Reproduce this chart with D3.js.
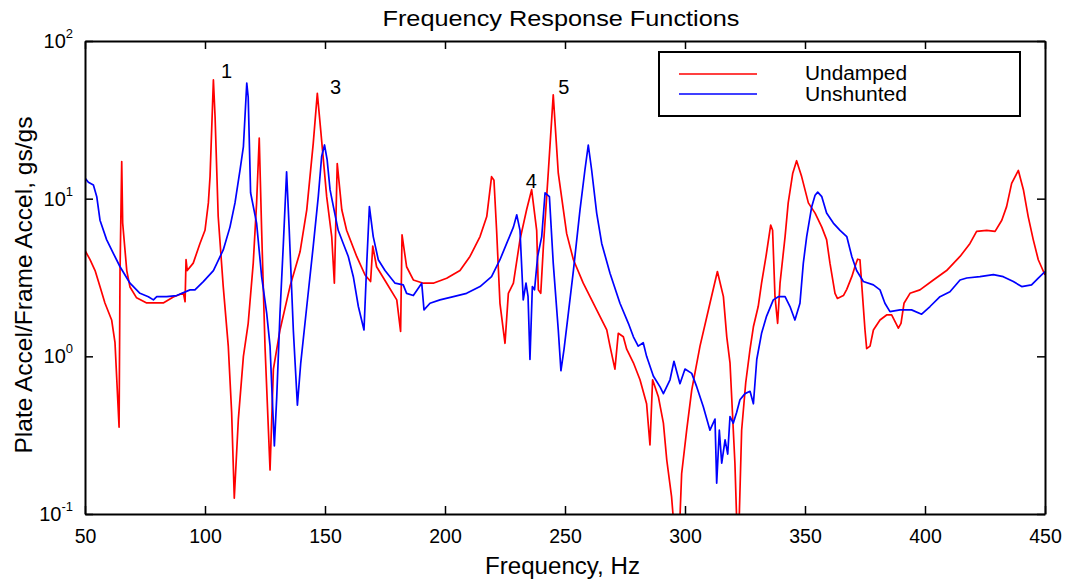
<!DOCTYPE html>
<html lang="en">
<head>
    <meta charset="UTF-8">
    <title>Frequency Response Functions</title>
    <script src="https://d3js.org/d3.v7.min.js"></script>
    <style>
        body { margin: 0; background: #fff; }
        text { font-family: "Liberation Sans", Arial, sans-serif; fill: #000; }
    </style>
</head>
<body>
<svg></svg>
<script>
    // [frequency Hz, gs/gs]
    const undamped = [
        [50, 4.7], [52.1, 4.1], [54.2, 3.5], [56.3, 2.75], [58.3, 2.18], [61.1, 1.7], [62.5, 1.22],
        [64.2, 0.355], [64.6, 3.5], [65.3, 17.2], [65.7, 7.0], [67.4, 3.5], [68.75, 2.75], [71.5, 2.35],
        [75.7, 2.18], [82.6, 2.18], [86.8, 2.38], [91, 2.52], [91.7, 2.22], [92.1, 4.1], [92.6, 3.5],
        [95.1, 3.9], [97.9, 5.2], [100, 6.3], [101.4, 9.4], [102.1, 13.8], [103.5, 56.6], [104.2, 33],
        [105.5, 7.7], [107.6, 2.77], [109.7, 1.16], [111.1, 0.44], [112.2, 0.126], [113.9, 0.4],
        [116, 1.0], [118, 1.62], [120.1, 3.9], [121.5, 9.4], [122.6, 24.2], [123.6, 6.3], [125, 1.16],
        [127.1, 0.19], [128.5, 0.83], [131.25, 1.47], [135.4, 2.77], [139.6, 4.6], [142.4, 8.5],
        [145.1, 22.4], [146.8, 46.5], [148.2, 27.3], [150.7, 10.3], [152.8, 5.75], [153.9, 2.91],
        [155.1, 16.7], [157, 8.5], [159, 6.3], [163.2, 4.3], [166.7, 3.28], [169, 2.98], [169.9, 5.0],
        [171.5, 3.7], [175.7, 2.91], [179.9, 2.28], [181.5, 1.44], [182.1, 5.9], [184, 3.7],
        [186.8, 3.05], [191, 2.91], [195.1, 2.91], [200.7, 3.13], [206.25, 3.5], [210.4, 4.3],
        [214.6, 5.75], [217.4, 7.7], [219.4, 13.8], [220.4, 13.1], [221.5, 6.3], [222.9, 2.17],
        [225, 1.21], [226.4, 2.51], [228.5, 2.91], [231.25, 5.5], [234, 8.5], [236.1, 11.4],
        [238.2, 6.3], [238.9, 2.64], [239.9, 2.51], [241, 5.0], [243.1, 15.2], [245.1, 45.5],
        [247.2, 14.5], [250.7, 6.0], [253.5, 4.1], [257.6, 2.91], [263.2, 1.97], [267.4, 1.47],
        [268.75, 1.16], [270.8, 0.83], [272.2, 1.4], [274.3, 1.33], [275.7, 1.11], [278.5, 0.91],
        [281.25, 0.71], [284, 0.5], [285.4, 0.274], [286.5, 0.71], [288.9, 0.555], [291, 0.377],
        [292.4, 0.22], [294.4, 0.129], [295.1, 0.095], [297.9, 0.095], [298.6, 0.18], [300.7, 0.34],
        [302.8, 0.61], [306.25, 1.16], [310.4, 2.17], [313.5, 3.45], [316, 2.39], [317.4, 1.33],
        [318.75, 0.91], [320.8, 0.21], [321.5, 0.095], [322.6, 0.095], [323.6, 0.34], [325.3, 0.68],
        [327.1, 1.11], [328.5, 1.54], [330.5, 2.07], [331.9, 2.91], [333.75, 4.3], [335.7, 6.8],
        [336.5, 6.3], [337.5, 2.39], [338.6, 1.62], [339.6, 2.91], [341.7, 5.75], [343, 9.4],
        [344.9, 14.5], [346.5, 17.4], [348.6, 13.8], [351.4, 9.4], [354.2, 8.1], [357, 6.6],
        [359, 5.5], [360.4, 3.9], [362.5, 2.51], [363.5, 2.33], [366, 2.43], [367.4, 2.66],
        [369.5, 3.2], [370.8, 3.7], [371.9, 4.13], [372.9, 4.1], [374, 2.39], [375, 1.47],
        [375.7, 1.12], [377.1, 1.16], [378.5, 1.47], [381.25, 1.7], [384, 1.83], [386.1, 1.83],
        [387.9, 1.62], [388.9, 1.51], [390, 1.62], [391.25, 2.17], [393.75, 2.51], [397.9, 2.64],
        [403.5, 3.05], [409, 3.5], [414.6, 4.3], [418.75, 5.2], [421.5, 6.2], [425.7, 6.3],
        [429.2, 6.2], [432, 7.3], [434, 8.9], [436.1, 12.5], [438.9, 15.1], [441, 11.4], [443, 7.7],
        [445.1, 5.5], [447.2, 4.1], [450, 3.28]
    ];

    const unshunted = [
        [50, 13.5], [51.4, 12.7], [53.5, 12.2], [54.9, 10.3], [56.25, 7.3], [59, 5.5], [61.8, 4.5],
        [64.6, 3.7], [68.75, 2.91], [72.9, 2.51], [76.4, 2.39], [78.5, 2.28], [79.9, 2.39], [84, 2.39],
        [88.2, 2.43], [93.75, 2.64], [95.8, 2.64], [99.3, 2.98], [103.5, 3.5], [107.6, 4.73],
        [110.4, 6.6], [112.5, 9.4], [114.6, 15.2], [116, 21.4], [117.4, 54], [118, 44], [119, 10.9],
        [121.5, 7.0], [123.6, 3.2], [125.7, 1.88], [127.1, 1.16], [128, 0.555], [128.9, 0.27],
        [129.9, 0.555], [131.25, 1.88], [132.6, 5.0], [134, 14.8], [135.1, 6.3], [136.8, 1.47],
        [138.5, 0.49], [139.9, 0.91], [142.4, 2.07], [145.1, 5.0], [147.2, 10.3], [148.6, 18.5],
        [149.8, 21.9], [150.9, 17.6], [152.1, 11.4], [153.5, 8.9], [155.5, 6.3], [157.6, 5.2],
        [159.7, 4.3], [161.8, 3.2], [163.9, 2.07], [166.25, 1.47], [167.4, 3.9], [168.5, 8.9],
        [170.1, 5.75], [172.2, 4.1], [175, 3.5], [179.2, 2.91], [182.6, 2.84], [184, 2.51],
        [186.8, 2.43], [190.3, 2.91], [191.25, 1.97], [193.75, 2.17], [197.9, 2.28], [203.5, 2.39],
        [209, 2.51], [214.6, 2.77], [219.4, 3.2], [222.9, 4.1], [225.7, 5.2], [228.5, 6.6],
        [229.9, 7.9], [231.25, 6.3], [232.6, 2.28], [233.75, 2.91], [234.6, 2.4], [235.4, 0.955],
        [236.4, 2.77], [237.3, 2.64], [238.6, 4.3], [240.3, 5.75], [241.7, 10.9], [243.5, 10.3],
        [245.1, 3.9], [247.2, 1.47], [248.3, 0.81], [249.6, 1.11], [251.4, 1.88], [253.5, 3.5],
        [256.25, 8.5], [258.3, 15.2], [259.7, 21.9], [261.1, 15.2], [263.2, 8.1], [265.3, 5.2],
        [268.75, 3.36], [272.9, 2.17], [276.4, 1.62], [278.5, 1.33], [280.5, 1.16], [282.6, 1.22],
        [284, 1.0], [286.8, 0.75], [289.6, 0.64], [291, 0.58], [293.75, 0.71], [295.4, 0.93],
        [297.9, 0.67], [300, 0.83], [302.8, 0.78], [304.9, 0.64], [307.6, 0.48], [310.4, 0.34],
        [312.5, 0.4], [313.2, 0.157], [314.3, 0.34], [315.3, 0.21], [316.7, 0.295], [317.8, 0.24],
        [318.75, 0.415], [320.1, 0.377], [321.5, 0.44], [322.9, 0.53], [325, 0.58], [327.1, 0.6],
        [328.5, 0.5], [329.9, 0.955], [331.9, 1.4], [334, 1.8], [336.8, 2.28], [338.9, 2.39],
        [341.7, 2.39], [343.75, 2.07], [345.8, 1.7], [347.9, 2.17], [349.3, 3.9], [350.7, 5.75],
        [352.8, 8.9], [354.2, 10.5], [355.3, 11.0], [357, 10.3], [359, 8.1], [361.8, 7.0],
        [364.6, 6.3], [367.4, 5.75], [369.5, 4.3], [371.5, 3.5], [374.3, 2.98], [378.5, 2.84],
        [381.25, 2.64], [383.3, 2.17], [385.4, 1.92], [389.6, 1.97], [394.4, 1.97], [398.6, 1.85],
        [402.1, 2.07], [406.25, 2.39], [410.4, 2.57], [414.6, 3.05], [417.4, 3.14], [422.9, 3.2],
        [428.5, 3.3], [432.6, 3.2], [436.8, 2.98], [440.3, 2.77], [444.4, 2.84], [447.2, 3.13],
        [450, 3.45]
    ];

    const seriesNames = ["Undamped", "Unshunted"];
    const seriesColors = ["#ff0000", "#0000ff"];
    const xTicks = [50, 100, 150, 200, 250, 300, 350, 400, 450];
    const yTicks = [0.1, 1, 10, 100];
    const yTickExp = ["-1", "0", "1", "2"];
    // mode numbers written next to the peaks
    const peakLabels = [
        { text: "1", f: 106.7, v: 58 },
        { text: "3", f: 152.1, v: 46 },
        { text: "4", f: 233.6, v: 11.7 },
        { text: "5", f: 247.2, v: 46 }
    ];

    const width = 1066;
    const height = 583;
    const plotL = 85, plotR = 1045, plotT = 41, plotB = 514;

    const svg = d3.select("svg")
        .attr("width", width)
        .attr("height", height);

    svg.append("rect").attr("width", width).attr("height", height).attr("fill", "#fff");

    const x = d3.scaleLinear().domain([50, 450]).range([plotL, plotR]);
    const y = d3.scaleLog().domain([0.1, 100]).range([plotB, plotT]);

    svg.append("clipPath").attr("id", "plotClip")
        .append("rect")
        .attr("x", plotL).attr("y", plotT)
        .attr("width", plotR - plotL).attr("height", plotB - plotT);

    // data lines
    const line = d3.line().x(d => x(d[0])).y(d => y(d[1]));
    [undamped, unshunted].forEach((data, i) => {
        svg.append("path")
            .datum(data)
            .attr("clip-path", "url(#plotClip)")
            .attr("d", line)
            .attr("fill", "none")
            .attr("stroke", seriesColors[i])
            .attr("stroke-width", 1.7)
            .attr("stroke-linejoin", "round");
    });

    // axes, ticks pointing inwards
    const styleAxis = g => {
        g.select(".domain").attr("stroke", "#000").attr("stroke-width", 2);
        g.selectAll(".tick line").attr("stroke", "#000").attr("stroke-width", 1.5);
    };

    svg.append("g")
        .attr("transform", `translate(0,${plotB})`)
        .call(d3.axisBottom(x).tickValues(xTicks).tickSize(-8).tickSizeOuter(0).tickPadding(15))
        .call(styleAxis)
        .call(g => g.selectAll(".tick text")
            .attr("font-size", 19.5)
            .attr("font-family", '"Liberation Sans", Arial, sans-serif')
            .attr("fill", "#000"));

    svg.append("g")
        .attr("transform", `translate(0,${plotT})`)
        .call(d3.axisTop(x).tickValues(xTicks).tickSize(-8).tickSizeOuter(0).tickFormat(""))
        .call(styleAxis);

    svg.append("g")
        .attr("transform", `translate(${plotL},0)`)
        .call(d3.axisLeft(y).tickValues(yTicks).tickSize(-8).tickSizeOuter(0).tickFormat(""))
        .call(styleAxis);

    svg.append("g")
        .attr("transform", `translate(${plotR},0)`)
        .call(d3.axisRight(y).tickValues(yTicks).tickSize(-8).tickSizeOuter(0).tickFormat(""))
        .call(styleAxis);

    // y tick labels as 10^n
    const yLab = svg.selectAll(".ylab")
        .data(yTicks)
        .join("text")
        .attr("class", "ylab")
        .attr("x", plotL - 12)
        .attr("y", d => y(d) + 7)
        .attr("text-anchor", "end")
        .attr("font-size", 20);
    yLab.append("tspan").text("10");
    yLab.append("tspan")
        .attr("dy", -10)
        .attr("font-size", 13)
        .text((d, i) => yTickExp[i]);

    // peak labels
    svg.selectAll(".peak")
        .data(peakLabels)
        .join("text")
        .attr("class", "peak")
        .attr("x", d => x(d.f))
        .attr("y", d => y(d.v))
        .attr("font-size", 20)
        .text(d => d.text);

    // legend
    const legend = svg.append("g");
    legend.append("rect")
        .attr("x", 659).attr("y", 52)
        .attr("width", 361).attr("height", 64)
        .attr("fill", "#fff")
        .attr("stroke", "#000")
        .attr("stroke-width", 2);
    seriesNames.forEach((name, i) => {
        legend.append("line")
            .attr("x1", 679).attr("x2", 757)
            .attr("y1", 74 + i * 20).attr("y2", 74 + i * 20)
            .attr("stroke", seriesColors[i])
            .attr("stroke-width", 1.7);
        legend.append("text")
            .attr("x", 805)
            .attr("y", 80 + i * 21)
            .attr("font-size", 19.5)
            .attr("textLength", 102)
            .attr("lengthAdjust", "spacingAndGlyphs")
            .text(name);
    });

    // titles
    svg.append("text")
        .attr("x", 561)
        .attr("y", 26)
        .attr("text-anchor", "middle")
        .attr("font-size", 22)
        .attr("textLength", 357)
        .attr("lengthAdjust", "spacingAndGlyphs")
        .text("Frequency Response Functions");

    svg.append("text")
        .attr("x", 562.5)
        .attr("y", 574)
        .attr("text-anchor", "middle")
        .attr("font-size", 23)
        .attr("textLength", 155)
        .attr("lengthAdjust", "spacingAndGlyphs")
        .text("Frequency, Hz");

    svg.append("text")
        .attr("transform", "translate(31.5,285) rotate(-90)")
        .attr("text-anchor", "middle")
        .attr("font-size", 24)
        .attr("textLength", 337)
        .attr("lengthAdjust", "spacingAndGlyphs")
        .text("Plate Accel/Frame Accel, gs/gs");
</script>
</body>
</html>
